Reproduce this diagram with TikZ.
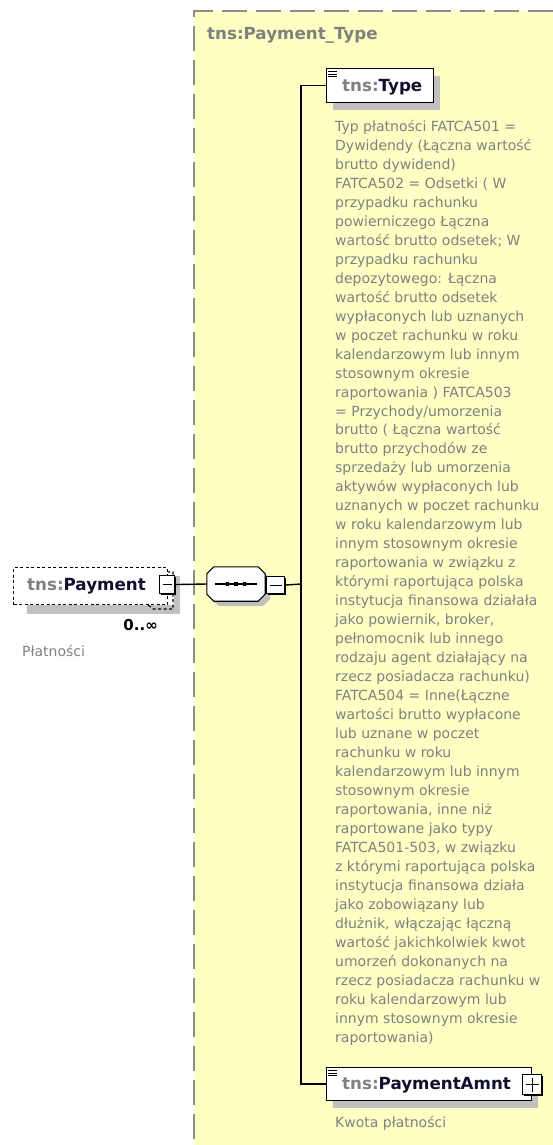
\documentclass[tikz,border=0pt]{standalone}
\usepackage{fontspec}
\setmainfont{DejaVu Sans}
\usetikzlibrary{shadows}

\definecolor{schemafill}{HTML}{FFFFC4}
\definecolor{schemaedge}{HTML}{8C8C8C}
\definecolor{shadowgray}{HTML}{C0C0C0}
\definecolor{nsgray}{HTML}{808080}
\definecolor{namenavy}{HTML}{10102E}

\newcommand{\qname}[1]{{\color{nsgray}tns:}{\color{namenavy}#1}}

\begin{document}
\begin{tikzpicture}[x=1pt,y=-1pt]
\tikzset{
  elembox/.style={draw,line width=1.3pt,fill=white,minimum height=34pt,inner sep=0pt,anchor=north west},
  boxshadow/.style={drop shadow={shadow xshift=6pt,shadow yshift=-7pt,fill=shadowgray,opacity=1}},
  optbox/.style={elembox,dash pattern=on 3pt off 2.5pt,line width=1.1pt},
  togglebox/.style={draw,line width=1.1pt,fill=white,inner sep=0pt,anchor=north west,
    drop shadow={shadow xshift=1.5pt,shadow yshift=-1.5pt,fill=black,opacity=1}},
  minusbox/.style={togglebox,path picture={
    \draw[line width=1pt] ([xshift=3pt]path picture bounding box.west) -- ([xshift=-3pt]path picture bounding box.east);}},
  plusbox/.style={togglebox,path picture={
    \draw[line width=1pt] ([xshift=3pt]path picture bounding box.west) -- ([xshift=-3pt]path picture bounding box.east);
    \draw[line width=1pt] ([yshift=-3pt]path picture bounding box.north) -- ([yshift=3pt]path picture bounding box.south);}},
  seqbox/.style={minimum width=58pt,minimum height=34pt,inner sep=0pt},
  octagon/.style={line width=1.1pt},
  conn/.style={line width=1.4pt},
  labeltext/.style={anchor=base west,inner sep=0pt,font=\fontsize{16.7}{20}\selectfont\bfseries},
  doctext/.style={inner sep=0pt,text=nsgray,font=\fontsize{14}{18.97}\selectfont}
}
\useasboundingbox (0,0) rectangle (553,1145);

% complex type frame
\fill[schemafill] (194,11) rectangle (555,1147);
\draw[schemaedge,line width=2pt,dash pattern=on 25pt off 9pt] (553,11) -- (194,11) -- (194,1147);
\node[labeltext,text=nsgray] (frame_lbl) at (207,40) {tns:Payment\_Type};

% optional element, 0..unbounded
\fill[shadowgray] (27,605) rectangle (180,614);
\fill[shadowgray] (174,576) rectangle (180,614);
\draw[dash pattern=on 3pt off 2.5pt,line width=1.1pt] (167,572) -- (173,572) -- (173,609) -- (153,609) -- (147,604);
\node[optbox,minimum width=154pt,minimum height=37pt] (payment) at (13,567) {};
\node[labeltext] (payment_lbl) at (27,590) {\qname{Payment}};
\node[minusbox,minimum width=15pt,minimum height=18pt] (pay_tog) at (159,575) {};
\node[anchor=base east,inner sep=0pt,font=\fontsize{15}{18}\selectfont\bfseries] (payment_occ) at (158,630) {0..∞};
\node[doctext,anchor=base west] (payment_doc) at (22,656) {Płatności};

% sequence
\node[seqbox] (seq) at (236,584) {};
\fill[shadowgray,transform canvas={xshift=5pt,yshift=-5pt}] ([xshift=7pt]seq.north west) -- ([xshift=-7pt]seq.north east)
  -- ([yshift=-7pt]seq.north east) -- ([yshift=7pt]seq.south east) -- ([xshift=-7pt]seq.south east)
  -- ([xshift=7pt]seq.south west) -- ([yshift=7pt]seq.south west) -- ([yshift=-7pt]seq.north west) -- cycle;
\filldraw[octagon,fill=white] ([xshift=7pt]seq.north west) -- ([xshift=-7pt]seq.north east)
  -- ([yshift=-7pt]seq.north east) -- ([yshift=7pt]seq.south east) -- ([xshift=-7pt]seq.south east)
  -- ([xshift=7pt]seq.south west) -- ([yshift=7pt]seq.south west) -- ([yshift=-7pt]seq.north west) -- cycle;
\draw[line width=1.2pt] ([xshift=8pt]seq.west) -- ([xshift=-8pt]seq.east);
\foreach \dx in {-8.5,0,8.5}
  \fill ([xshift=\dx pt]seq.center) ++(-1.8,-1.8) rectangle ++(3.6,3.6);
\node[minusbox,minimum width=18pt,minimum height=17pt] (seq_tog) at (266,576) {};

% children
\node[elembox,boxshadow,minimum width=107pt] (type) at (326,68) {};
\node[labeltext] (type_lbl) at (342,92) {\qname{Type}};
\foreach \dy in {3.7,6,8.3}
  \draw[line width=0.8pt] ([shift={(2pt,-\dy pt)}]type.north west) -- ++(9,0);
\node[doctext,anchor=north west,align=left] (type_doc) at (335,120) {Typ płatności FATCA501 =\\
Dywidendy (Łączna wartość\\
brutto dywidend)\\
FATCA502 = Odsetki ( W\\
przypadku rachunku\\
powierniczego Łączna\\
wartość brutto odsetek; W\\
przypadku rachunku\\
depozytowego: Łączna\\
wartość brutto odsetek\\
wypłaconych lub uznanych\\
w poczet rachunku w roku\\
kalendarzowym lub innym\\
stosownym okresie\\
raportowania ) FATCA503\\
= Przychody/umorzenia\\
brutto ( Łączna wartość\\
brutto przychodów ze\\
sprzedaży lub umorzenia\\
aktywów wypłaconych lub\\
uznanych w poczet rachunku\\
w roku kalendarzowym lub\\
innym stosownym okresie\\
raportowania w związku z\\
którymi raportująca polska\\
instytucja finansowa działała\\
jako powiernik, broker,\\
pełnomocnik lub innego\\
rodzaju agent działający na\\
rzecz posiadacza rachunku)\\
FATCA504 = Inne(Łączne\\
wartości brutto wypłacone\\
lub uznane w poczet\\
rachunku w roku\\
kalendarzowym lub innym\\
stosownym okresie\\
raportowania, inne niż\\
raportowane jako typy\\
FATCA501-503, w związku\\
z którymi raportująca polska\\
instytucja finansowa działa\\
jako zobowiązany lub\\
dłużnik, włączając łączną\\
wartość jakichkolwiek kwot\\
umorzeń dokonanych na\\
rzecz posiadacza rachunku w\\
roku kalendarzowym lub\\
innym stosownym okresie\\
raportowania)};

\node[elembox,boxshadow,minimum width=205pt,minimum height=33pt] (amnt) at (326,1067) {};
\node[labeltext] (amnt_lbl) at (342,1089) {\qname{PaymentAmnt}};
\foreach \dy in {3.7,6,8.3}
  \draw[line width=0.8pt] ([shift={(2pt,-\dy pt)}]amnt.north west) -- ++(9,0);
\node[plusbox,minimum width=19pt,minimum height=20pt] (amnt_tog) at (522,1074) {};
\node[doctext,anchor=base west] (amnt_doc) at (335,1127) {Kwota płatności};

% connectors
\coordinate (trunk) at (301,584);
\draw[conn] (pay_tog.east) -- (seq.west);
\draw[conn] (seq_tog.east) -- (trunk);
\draw[conn] (type.west) -| (trunk) |- (amnt.west);
\end{tikzpicture}
\end{document}
